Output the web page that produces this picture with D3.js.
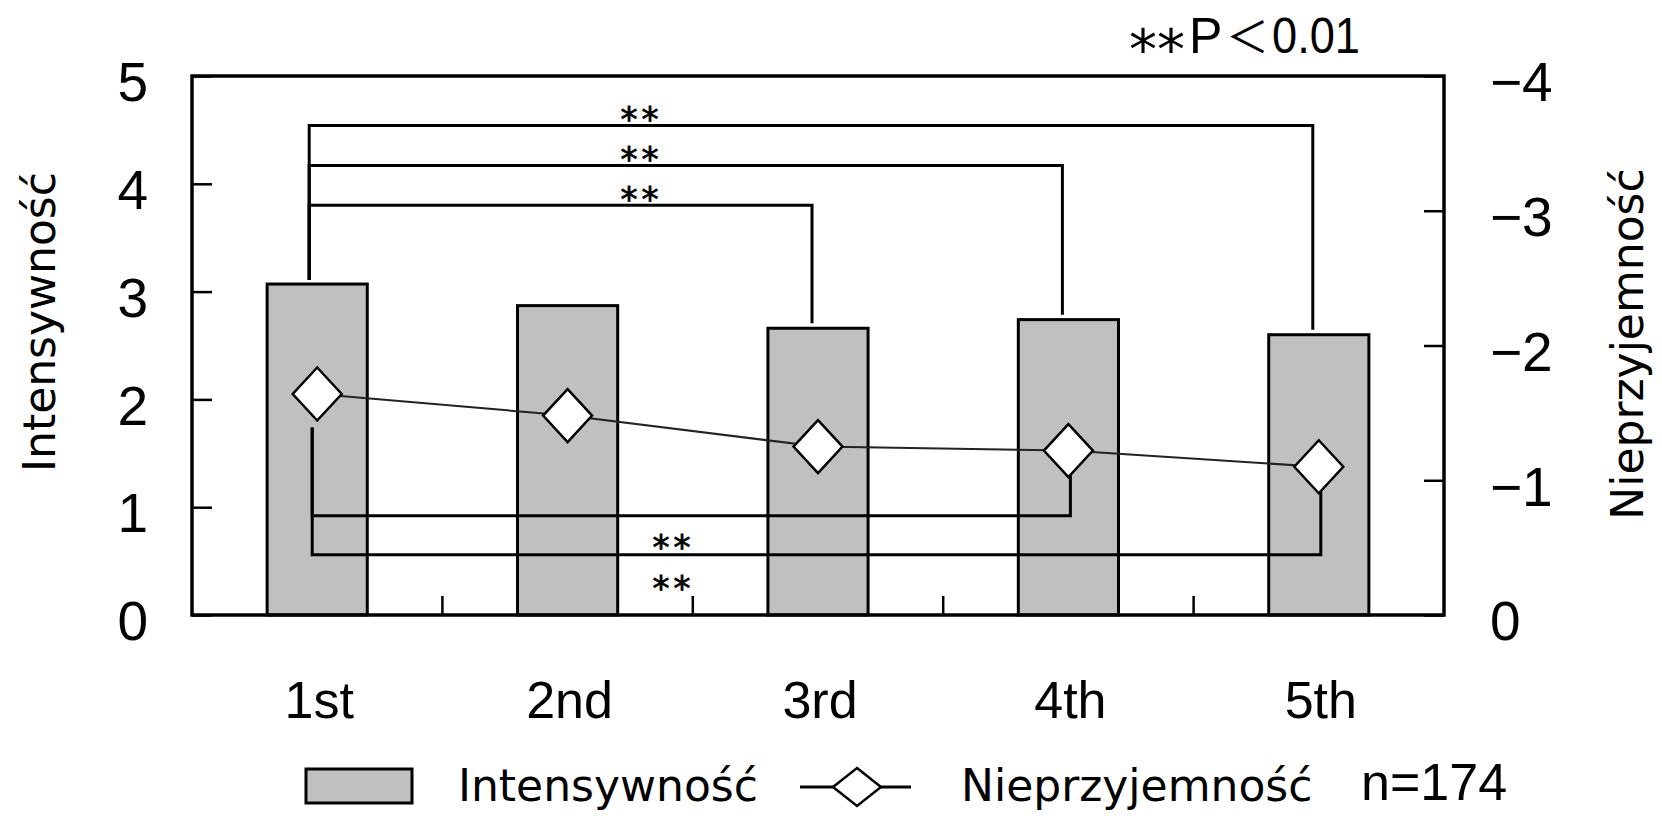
<!DOCTYPE html>
<html>
<head>
<meta charset="utf-8">
<script src="https://cdn.jsdelivr.net/npm/d3@7"></script>
<style>
  html, body { margin: 0; padding: 0; background: #fff; }
  svg { display: block; }
</style>
</head>
<body>
<svg id="chart" width="1662" height="816"></svg>
<script>
// ---------------- data ----------------
const categories = ["1st", "2nd", "3rd", "4th", "5th"];
const intensity = [3.07, 2.87, 2.66, 2.74, 2.60];          // left axis (bars)
const unpleasantness = [-1.64, -1.48, -1.25, -1.22, -1.10]; // right axis (line)
const leftTicks = [0, 1, 2, 3, 4, 5];
const rightTicks = [0, -1, -2, -3, -4];
// significance brackets (level in left-axis units)
const upperBrackets = [
  { from: 0, to: 4, level: 4.54, label: "**" },
  { from: 0, to: 3, level: 4.17, label: "**" },
  { from: 0, to: 2, level: 3.80, label: "**" }
];
const lowerBrackets = [
  { from: 0, to: 3, level: 0.92, label: "**" },
  { from: 0, to: 4, level: 0.56, label: "**" }
];
const legendBar = "Intensywność";
const legendLine = "Nieprzyjemność";
const leftTitle = "Intensywność";
const rightTitle = "Nieprzyjemność";
const sampleNote = "n=174";
const pNote = ["**", "P", "\uFF1C", "0.01"];

// ---------------- layout ----------------
const svg = d3.select("#chart");
const plot = { left: 192, right: 1444, top: 76, bottom: 615 };
const numFont = "'Liberation Sans', Arial, sans-serif";
const txtFont = "'DejaVu Sans', sans-serif";
const starFont = "'DejaVu Sans', sans-serif";
const starSize = 34;
const starLift = 0.57 * starSize; // glyph centre above baseline

const x = d3.scaleBand().domain(categories)
  .range([plot.left, plot.right]).paddingInner(0.6).paddingOuter(0.3);
const xc = c => x(c) + x.bandwidth() / 2;
const yL = d3.scaleLinear().domain([0, 5]).range([plot.bottom, plot.top]);
const yR = d3.scaleLinear().domain([0, -4]).range([plot.bottom, plot.top]);

// left axis
const gL = svg.append("g").attr("transform", `translate(${plot.left},0)`)
  .call(d3.axisLeft(yL).tickValues(leftTicks).tickSize(-20).tickPadding(44).tickFormat(d3.format("d")));
gL.select(".domain").remove();
gL.selectAll(".tick line").attr("stroke", "#000").attr("stroke-width", 2.5);
gL.selectAll(".tick text").attr("font-family", numFont).attr("font-size", 55).attr("fill", "#000").attr("dy", "0.45em");

// right axis
const gR = svg.append("g").attr("transform", `translate(${plot.right},0)`)
  .call(d3.axisRight(yR).tickValues(rightTicks).tickSize(-20).tickPadding(46).tickFormat(d => d === 0 ? "0" : "\u2212" + Math.abs(d)));
gR.select(".domain").remove();
gR.selectAll(".tick line").attr("stroke", "#000").attr("stroke-width", 2.5);
gR.selectAll(".tick text").attr("font-family", numFont).attr("font-size", 55).attr("fill", "#000").attr("dy", "0.45em");

// x minor ticks at category boundaries
const bounds = categories.slice(1).map((c, i) => (x(categories[i]) + x.bandwidth() + x(c)) / 2);
svg.append("g").selectAll("line").data(bounds).join("line")
  .attr("x1", d => d).attr("x2", d => d)
  .attr("y1", plot.bottom).attr("y2", plot.bottom - 19)
  .attr("stroke", "#000").attr("stroke-width", 2.5);

// x labels
svg.append("g").selectAll("text").data(categories).join("text")
  .attr("x", d => xc(d) + 2).attr("y", 718)
  .attr("text-anchor", "middle")
  .attr("font-family", numFont).attr("font-size", 52)
  .text(d => d);

// bars
svg.append("g").selectAll("rect").data(intensity).join("rect")
  .attr("x", (d, i) => x(categories[i]))
  .attr("y", d => yL(d))
  .attr("width", x.bandwidth())
  .attr("height", d => yL(0) - yL(d))
  .attr("fill", "#c0c0c0").attr("stroke", "#000").attr("stroke-width", 3);

// frame
svg.append("rect")
  .attr("x", plot.left).attr("y", plot.top)
  .attr("width", plot.right - plot.left).attr("height", plot.bottom - plot.top)
  .attr("fill", "none").attr("stroke", "#000").attr("stroke-width", 3.5);

// upper brackets (between bars)
const gUB = svg.append("g").attr("fill", "none").attr("stroke", "#000");
upperBrackets.forEach(b => {
  const x1 = xc(categories[b.from]) - 8, x2 = xc(categories[b.to]) - 6;
  const yy = yL(b.level);
  gUB.append("path")
    .attr("d", `M${x1},${yL(intensity[b.from]) - 4}V${yy}H${x2}V${yL(intensity[b.to]) - 5}`)
    .attr("stroke-width", 3);
  svg.append("text")
    .attr("x", xc(categories[1]) + 74).attr("y", yy - 14 + starLift)
    .attr("text-anchor", "middle")
    .attr("font-family", starFont).attr("font-size", starSize)
    .attr("letter-spacing", 4).attr("stroke", "#000").attr("stroke-width", 0.8)
    .text(b.label);
});

// lower brackets (between line points)
const diamondH = 26.5, diamondW = 24.5;
lowerBrackets.forEach((b, k) => {
  const x1 = xc(categories[b.from]) - 5, x2 = xc(categories[b.to]) + 2;
  const yy = yL(b.level);
  gUB.append("path")
    .attr("d", `M${x1},${yR(unpleasantness[b.from]) + diamondH + 7}V${yy}H${x2}V${yR(unpleasantness[b.to])}`)
    .attr("stroke-width", 3);
  svg.append("text")
    .attr("x", xc(categories[1]) + 106).attr("y", yy + (k === 0 ? 24 : 26) + starLift)
    .attr("text-anchor", "middle")
    .attr("font-family", starFont).attr("font-size", starSize)
    .attr("letter-spacing", 4).attr("stroke", "#000").attr("stroke-width", 0.8)
    .text(b.label);
});

// line series
const line = d3.line().x((d, i) => xc(categories[i])).y(d => yR(d));
svg.append("path").datum(unpleasantness)
  .attr("d", line).attr("fill", "none").attr("stroke", "#222").attr("stroke-width", 2);

const diamondPath = (w, h) => `M0,${-h}L${w},0L0,${h}L${-w},0Z`;
svg.append("g").selectAll("path").data(unpleasantness).join("path")
  .attr("transform", (d, i) => `translate(${xc(categories[i])},${yR(d)})`)
  .attr("d", diamondPath(diamondW, diamondH))
  .attr("fill", "#fff").attr("stroke", "#000").attr("stroke-width", 2.5);

// axis titles
svg.append("text")
  .attr("transform", "translate(55,322) rotate(-90)")
  .attr("text-anchor", "middle")
  .attr("font-family", txtFont).attr("font-size", 44)
  .text(leftTitle);
svg.append("text")
  .attr("transform", "translate(1643,344) rotate(-90)")
  .attr("text-anchor", "middle")
  .attr("font-family", txtFont).attr("font-size", 44)
  .text(rightTitle);

// significance note
const note = svg.append("text").attr("y", 53).attr("font-family", numFont).attr("font-size", 50);
note.append("tspan").attr("x", 1129).attr("font-family", starFont).attr("font-size", 56).attr("dy", 16).text(pNote[0]);
note.append("tspan").attr("x", 1189).attr("dy", -16).text(pNote[1]);
note.append("tspan").attr("x", 1226).attr("font-family", "'Noto Sans CJK JP', sans-serif").attr("font-size", 43).text(pNote[2]);
note.append("tspan").attr("x", 1272).attr("textLength", 88).attr("lengthAdjust", "spacingAndGlyphs").text(pNote[3]);

// legend
const lg = svg.append("g");
lg.append("rect").attr("x", 306).attr("y", 769).attr("width", 106).attr("height", 34)
  .attr("fill", "#c0c0c0").attr("stroke", "#000").attr("stroke-width", 3);
lg.append("text").attr("x", 458).attr("y", 801)
  .attr("font-family", txtFont).attr("font-size", 44).text(legendBar);
lg.append("line").attr("x1", 800).attr("x2", 911).attr("y1", 787).attr("y2", 787)
  .attr("stroke", "#000").attr("stroke-width", 3);
lg.append("path").attr("transform", "translate(857,787)")
  .attr("d", diamondPath(24, 19))
  .attr("fill", "#fff").attr("stroke", "#000").attr("stroke-width", 2.5);
lg.append("text").attr("x", 961).attr("y", 801)
  .attr("font-family", txtFont).attr("font-size", 44).text(legendLine);
lg.append("text").attr("x", 1361).attr("y", 800)
  .attr("font-family", numFont).attr("font-size", 52).text(sampleNote);
</script>
</body>
</html>
